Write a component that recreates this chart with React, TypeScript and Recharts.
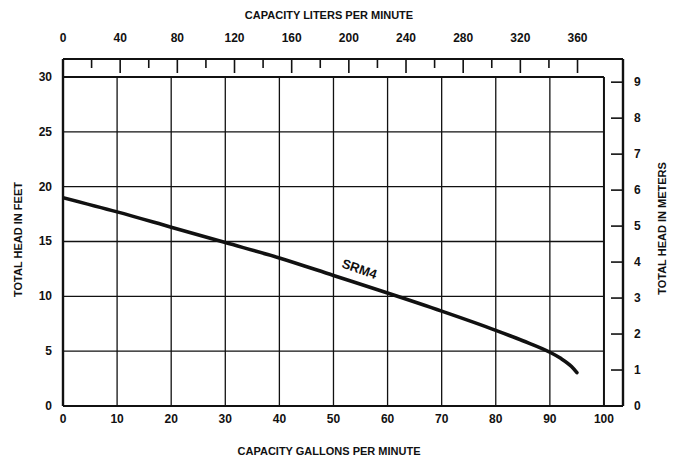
// Pump curve: total head vs capacity, with liters/min on top and meters on the right.
import { ComposedChart, Line, XAxis, YAxis, ReferenceLine, ReferenceDot } from 'recharts'

const GPM = [0, 10, 20, 30, 40, 50, 60, 70, 80, 85, 90, 92, 94, 95]
const HEAD_FT = [19.0, 17.7, 16.3, 14.9, 13.5, 11.9, 10.3, 8.65, 6.9, 5.95, 4.9, 4.35, 3.6, 3.05]

const GPM_TICKS = [0, 10, 20, 30, 40, 50, 60, 70, 80, 90, 100]
const FT_TICKS = [0, 5, 10, 15, 20, 25, 30]
const LPM_TICKS = [0, 20, 40, 60, 80, 100, 120, 140, 160, 180, 200, 220, 240, 260, 280, 300, 320, 340, 360]
const M_TICKS = [0, 1, 2, 3, 4, 5, 6, 7, 8, 9]
const GRID_X = [10, 20, 30, 40, 50, 60, 70, 80, 90]
const GRID_Y = [5, 10, 15, 20, 25]

const L_PER_GAL = 3.785
const M_PER_FT = 0.3048
const X_MAX = 103.52
const Y_MAX = 31.64

// same curve in both unit systems so the secondary axes have something to scale
const data = GPM.map((g, i) => ({ gpm: g, ft: HEAD_FT[i], lpm: g * L_PER_GAL, m: HEAD_FT[i] * M_PER_FT }))

const FONT = '"Liberation Sans", Arial, Helvetica, sans-serif'
const INK = '#111'

function BottomTick({ x, y, payload }: any) {
  return (
    <text x={x} y={y + 17} textAnchor="middle" fontFamily={FONT} fontWeight={700} fontSize={12} fill={INK}>
      {payload.value}
    </text>
  )
}

function LeftTick({ x, y, payload }: any) {
  return (
    <text x={x - 11} y={y + 4} textAnchor="end" fontFamily={FONT} fontWeight={700} fontSize={12} fill={INK}>
      {payload.value}
    </text>
  )
}

function TopTick({ x, y, payload }: any) {
  const v = payload.value as number
  const major = v % 40 === 0
  return (
    <g>
      {v > 0 && <line x1={x} y1={y} x2={x} y2={y + (major ? 14 : 9)} stroke={INK} strokeWidth={1.6} />}
      {major && (
        <text x={x} y={y - 17} textAnchor="middle" fontFamily={FONT} fontWeight={700} fontSize={12} fill={INK}>
          {v}
        </text>
      )}
    </g>
  )
}

function RightTick({ x, y, payload }: any) {
  return (
    <g>
      <line x1={x - 12} y1={y} x2={x} y2={y} stroke={INK} strokeWidth={1.6} />
      <text x={x + 11} y={y + 4} textAnchor="start" fontFamily={FONT} fontWeight={700} fontSize={12} fill={INK}>
        {payload.value}
      </text>
    </g>
  )
}

const titleStyle = { fontFamily: FONT, fontWeight: 700, fontSize: 11, fill: INK }

export default function App() {
  return (
    <div style={{ position: 'absolute', left: 0, top: 0, background: '#fff' }}>
      <ComposedChart width={675} height={459} data={data} margin={{ top: 0, right: 0, bottom: 0, left: 0 }}>
        <XAxis
          xAxisId="gpm"
          dataKey="gpm"
          type="number"
          domain={[0, X_MAX]}
          allowDataOverflow
          ticks={GPM_TICKS}
          interval={0}
          height={53}
          tickSize={0}
          tickMargin={0}
          tickLine={false}
          axisLine={{ stroke: INK, strokeWidth: 2.2 }}
          tick={<BottomTick />}
          label={{ value: 'CAPACITY GALLONS PER MINUTE', position: 'insideBottom', offset: 4, dx: -14, style: titleStyle }}
        />
        <XAxis
          xAxisId="lpm"
          dataKey="lpm"
          orientation="top"
          type="number"
          domain={[0, X_MAX * L_PER_GAL]}
          allowDataOverflow
          ticks={LPM_TICKS}
          interval={0}
          height={59}
          tickSize={0}
          tickMargin={0}
          tickLine={false}
          axisLine={{ stroke: INK, strokeWidth: 2.2 }}
          tick={<TopTick />}
          label={{ value: 'CAPACITY LITERS PER MINUTE', position: 'insideTop', offset: 11, dx: -14, style: titleStyle }}
        />
        <YAxis
          yAxisId="ft"
          type="number"
          domain={[0, Y_MAX]}
          allowDataOverflow
          ticks={FT_TICKS}
          interval={0}
          width={63}
          tickSize={0}
          tickMargin={0}
          tickLine={false}
          axisLine={{ stroke: INK, strokeWidth: 2.4 }}
          tick={<LeftTick />}
          label={{ value: 'TOTAL HEAD IN FEET', angle: -90, position: 'insideLeft', offset: 18, dy: 7, style: { ...titleStyle, textAnchor: 'middle' } }}
        />
        <YAxis
          yAxisId="m"
          orientation="right"
          type="number"
          domain={[0, Y_MAX * M_PER_FT]}
          allowDataOverflow
          ticks={M_TICKS}
          interval={0}
          width={52}
          tickSize={0}
          tickMargin={0}
          tickLine={false}
          axisLine={{ stroke: INK, strokeWidth: 2.4 }}
          tick={<RightTick />}
          label={{ value: 'TOTAL HEAD IN METERS', angle: -90, position: 'insideRight', offset: 13, dy: -4, style: { ...titleStyle, textAnchor: 'middle' } }}
        />

        {/* grid stops at 30 ft / 100 gpm, inside the outer frame */}
        {GRID_X.map((g) => (
          <ReferenceLine
            key={'gx' + g}
            xAxisId="gpm"
            yAxisId="ft"
            segment={[{ x: g, y: 0 }, { x: g, y: 30 }]}
            stroke={INK}
            strokeWidth={1.3}
          />
        ))}
        {GRID_Y.map((f) => (
          <ReferenceLine
            key={'gy' + f}
            xAxisId="gpm"
            yAxisId="ft"
            segment={[{ x: 0, y: f }, { x: 100, y: f }]}
            stroke={INK}
            strokeWidth={1.3}
          />
        ))}
        <ReferenceLine xAxisId="gpm" yAxisId="ft" segment={[{ x: 0, y: 30 }, { x: 100, y: 30 }]} stroke={INK} strokeWidth={2} />
        <ReferenceLine xAxisId="gpm" yAxisId="ft" segment={[{ x: 100, y: 0 }, { x: 100, y: 30 }]} stroke={INK} strokeWidth={2} />

        {/* metric twin of the curve: invisible, only anchors the top/right axes */}
        <Line
          xAxisId="lpm"
          yAxisId="m"
          type="monotone"
          dataKey="m"
          stroke="none"
          dot={false}
          activeDot={false}
          isAnimationActive={false}
        />
        <Line
          xAxisId="gpm"
          yAxisId="ft"
          type="monotone"
          dataKey="ft"
          stroke={INK}
          strokeWidth={3.6}
          strokeLinecap="round"
          dot={false}
          activeDot={false}
          isAnimationActive={false}
        />

        <ReferenceDot
          xAxisId="gpm"
          yAxisId="ft"
          x={54.8}
          y={12.5}
          r={0}
          stroke="none"
          label={{
            content: ({ viewBox }: any) => {
              const cx = viewBox.x + viewBox.width / 2
              const cy = viewBox.y + viewBox.height / 2
              return (
                <text
                  x={cx}
                  y={cy}
                  transform={`rotate(19 ${cx} ${cy})`}
                  textAnchor="middle"
                  dominantBaseline="central"
                  fontFamily={FONT}
                  fontWeight={700}
                  fontSize={13}
                  fill={INK}
                >
                  SRM4
                </text>
              )
            },
          }}
        />
      </ComposedChart>
    </div>
  )
}
